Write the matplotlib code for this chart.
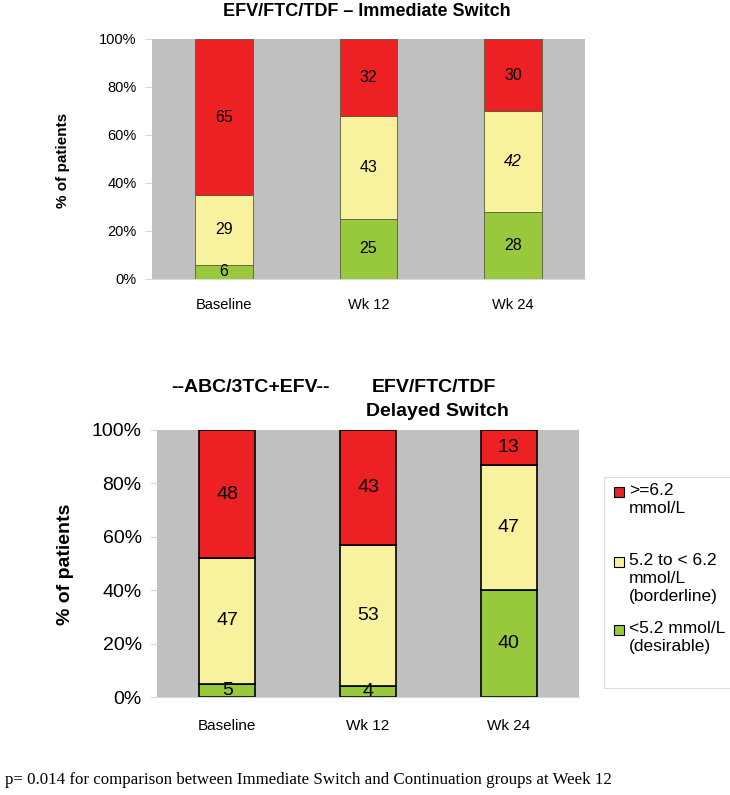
import matplotlib
matplotlib.use("Agg")
import matplotlib.pyplot as plt
from matplotlib import font_manager
from matplotlib.patches import Rectangle
import numpy as np

# data
timepoints = ["Baseline", "Wk 12", "Wk 24"]
legend_labels = [">=6.2\nmmol/L", "5.2 to < 6.2\nmmol/L\n(borderline)", "<5.2 mmol/L\n(desirable)"]
yticks = [0, 20, 40, 60, 80, 100]
ytick_labels = ["0%", "20%", "40%", "60%", "80%", "100%"]

# immediate switch (top)
imm_desirable = [6, 25, 28]
imm_borderline = [29, 43, 42]
imm_high = [65, 32, 30]

# delayed switch (bottom)
del_desirable = [5, 4, 40]
del_borderline = [47, 53, 47]
del_high = [48, 43, 13]

red = "#ED2024"
yellow = "#F8F29E"
green = "#98C83C"
gray = "#C0C0C0"

names = [f.name for f in font_manager.fontManager.ttflist]
narrow = "Liberation Sans Narrow" if "Liberation Sans Narrow" in names else "Liberation Sans"
sans = "Liberation Sans"
serif = "Liberation Serif"

fig = plt.figure(figsize=(7.3, 7.95), dpi=100)

def stacked(ax, low, mid, high, edge, lw):
    x = np.arange(len(timepoints))
    ax.set_facecolor(gray)
    ax.bar(x, low, 0.4, color=green, edgecolor=edge, linewidth=lw, zorder=2)
    ax.bar(x, mid, 0.4, bottom=low, color=yellow, edgecolor=edge, linewidth=lw, zorder=2)
    b2 = np.array(low) + np.array(mid)
    ax.bar(x, high, 0.4, bottom=b2, color=red, edgecolor=edge, linewidth=lw, zorder=2)
    ax.set_xlim(-0.5, 2.5)
    ax.set_ylim(0, 100)
    for s in ["top", "right", "left"]:
        ax.spines[s].set_visible(False)
    ax.spines["bottom"].set_color("#d8d8d8")
    ax.set_yticks(yticks)
    ax.set_yticklabels(ytick_labels)
    ax.tick_params(axis="y", length=5, color="#d8d8d8", pad=6)
    ax.set_xticks(x)
    ax.set_xticklabels(timepoints)
    ax.tick_params(axis="x", length=0)
    return x, b2

# ---- top chart
ax1 = fig.add_axes([152/730, 1-279/795, 433/730, 240/795])
x, b2 = stacked(ax1, imm_desirable, imm_borderline, imm_high, "#5b5b3a", 0.6)
for lab in ax1.get_yticklabels():
    lab.set_fontfamily(sans); lab.set_fontsize(10.5)
for lab in ax1.get_xticklabels():
    lab.set_fontfamily(sans); lab.set_fontsize(10.5)
ax1.tick_params(axis="x", pad=14)
for i in range(3):
    ax1.text(x[i], imm_desirable[i]/2, str(imm_desirable[i]), ha="center", va="center",
             fontsize=11.5, family=sans, zorder=3)
    ax1.text(x[i], imm_desirable[i] + imm_borderline[i]/2, str(imm_borderline[i]), ha="center",
             va="center", fontsize=11.5, family=sans, zorder=3,
             style="italic" if i == 2 else "normal")
    ax1.text(x[i], b2[i] + imm_high[i]/2, str(imm_high[i]), ha="center", va="center",
             fontsize=11.5, family=sans, zorder=3)
fig.text(63/730, 1-160/795, "% of patients", rotation=90, ha="center", va="center",
         fontsize=11, fontweight="bold", family=sans)
fig.text(367/730, 1-12/795, "EFV/FTC/TDF \u2013 Immediate Switch", ha="center", va="center",
         fontsize=13, fontweight="bold", family=sans)

# ---- bottom chart
ax2 = fig.add_axes([157/730, 1-697/795, 422/730, 267/795])
x, b2 = stacked(ax2, del_desirable, del_borderline, del_high, "black", 1.2)
for lab in ax2.get_yticklabels():
    lab.set_fontfamily(narrow); lab.set_fontsize(14)
for lab in ax2.get_xticklabels():
    lab.set_fontfamily(narrow); lab.set_fontsize(11)
ax2.tick_params(axis="x", pad=16)
for i in range(3):
    if del_desirable[i] > 0:
        ax2.text(x[i], del_desirable[i]/2, str(del_desirable[i]), ha="center", va="center",
                 fontsize=14, family=narrow, zorder=3)
    ax2.text(x[i], del_desirable[i] + del_borderline[i]/2, str(del_borderline[i]), ha="center",
             va="center", fontsize=14, family=narrow, zorder=3)
    ax2.text(x[i], b2[i] + del_high[i]/2, str(del_high[i]), ha="center", va="center",
             fontsize=14, family=narrow, zorder=3)
fig.text(65/730, 1-564/795, "% of patients", rotation=90, ha="center", va="center",
         fontsize=14, fontweight="bold", family=sans)
fig.text(251/730, 1-388/795, "--ABC/3TC+EFV--", ha="center", va="center",
         fontsize=14, fontweight="bold", family=narrow)
fig.text(434/730, 1-388/795, "EFV/FTC/TDF", ha="center", va="center",
         fontsize=14, fontweight="bold", family=narrow)
fig.text(437/730, 1-411/795, "Delayed Switch", ha="center", va="center",
         fontsize=14, fontweight="bold", family=narrow)

# legend box drawn by hand so the squares sit on the first line
fig.add_artist(Rectangle((604/730, 1-688/795), 130/730, 211/795, transform=fig.transFigure,
                         facecolor="white", edgecolor="#dddddd", linewidth=0.8))
leg_colors = [red, yellow, green]
leg_y = [492, 562, 630]
for c, lab, yy in zip(leg_colors, legend_labels, leg_y):
    fig.add_artist(Rectangle((614/730, 1-(yy+5)/795), 10/730, 10/795, transform=fig.transFigure,
                             facecolor=c, edgecolor="black", linewidth=0.8))
    fig.text(629/730, 1-(yy-9)/795, lab, ha="left", va="top", fontsize=12.5,
             family=sans, linespacing=1.25)

fig.text(5/730, 1-780/795, "p= 0.014 for comparison between Immediate Switch and Continuation groups at Week 12",
         ha="left", va="center", fontsize=12.2, family=serif)

fig.savefig("out.png", dpi=100)
